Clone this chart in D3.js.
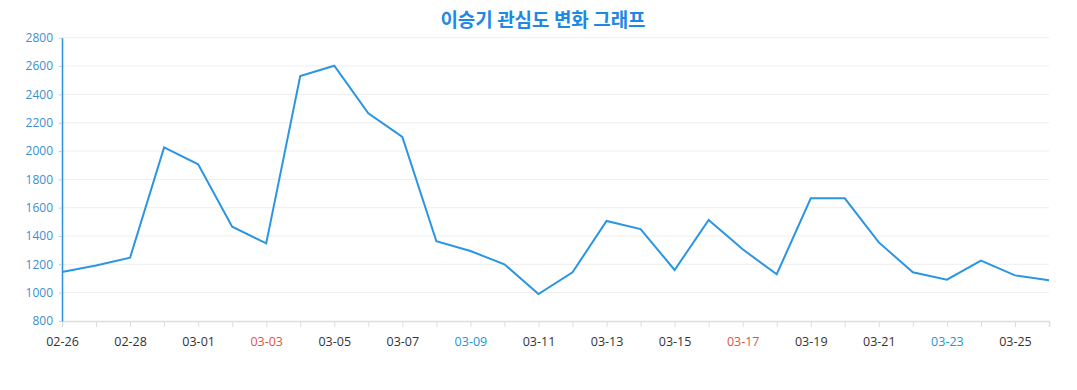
<!DOCTYPE html>
<html>
<head>
<meta charset="utf-8">
<script src="https://cdn.jsdelivr.net/npm/d3@7"></script>
<style>
  body { margin: 0; background: #fff; }
  text { font-family: "Open Sans", "Noto Sans", sans-serif; }
</style>
</head>
<body>
<div id="chart"></div>
<script>
// 날짜별 관심도
const dates = ["02-26", "02-27", "02-28", "02-29", "03-01", "03-02", "03-03", "03-04", "03-05", "03-06",
               "03-07", "03-08", "03-09", "03-10", "03-11", "03-12", "03-13", "03-14", "03-15", "03-16",
               "03-17", "03-18", "03-19", "03-20", "03-21", "03-22", "03-23", "03-24", "03-25", "03-26"];
const values = [1146, 1192, 1247, 2026, 1906, 1466, 1348, 2530, 2602, 2266,
                2100, 1363, 1294, 1200, 990, 1144, 1506, 1449, 1160, 1513,
                1306, 1130, 1666, 1666, 1355, 1144, 1092, 1226, 1122, 1087];
const yTicks = [800, 1000, 1200, 1400, 1600, 1800, 2000, 2200, 2400, 2600, 2800];
const redLabels = ["03-03", "03-17"];
const blueLabels = ["03-09", "03-23"];

const width = 1077, height = 390;
const margin = { top: 37.7, right: 28, bottom: 69, left: 62 };

const svg = d3.select("#chart")
    .append("svg")
    .attr("width", width)
    .attr("height", height);

const x = d3.scalePoint()
    .domain(dates)
    .range([margin.left, width - margin.right]);

const y = d3.scaleLinear()
    .domain([800, 2800])
    .range([height - margin.bottom, margin.top]);

// grid
svg.append("g")
    .selectAll("line")
    .data(yTicks.slice(1))
    .join("line")
    .attr("x1", margin.left)
    .attr("x2", width - margin.right)
    .attr("y1", d => y(d))
    .attr("y2", d => y(d))
    .attr("stroke", "#eeeeee");

// x axis
const xAxis = svg.append("g")
    .attr("transform", `translate(0,${height - margin.bottom})`)
    .call(d3.axisBottom(x).tickSize(6).tickPadding(10)
        .tickFormat((d, i) => i % 2 === 0 ? d : ""));
xAxis.select(".domain").attr("stroke", "#dddddd").attr("stroke-width", 1.5);
xAxis.selectAll(".tick line").attr("stroke", "#dddddd");
xAxis.selectAll(".tick text")
    .style("font-size", "12.5px")
    .attr("fill", d => redLabels.includes(d) ? "#e0553c" : blueLabels.includes(d) ? "#2196d3" : "#333333");

// y axis
const yAxis = svg.append("g")
    .attr("transform", `translate(${margin.left},0)`)
    .call(d3.axisLeft(y).tickValues(yTicks).tickFormat(d3.format("d"))
        .tickSize(3).tickPadding(6).tickSizeOuter(0));
yAxis.select(".domain").attr("stroke", "#2a8fdd").attr("stroke-width", 1.5);
yAxis.selectAll(".tick line").attr("stroke", "#cccccc");
yAxis.selectAll(".tick text")
    .style("font-size", "12px")
    .attr("fill", "#3a8fd0");

// line
const line = d3.line()
    .x((d, i) => x(dates[i]))
    .y(d => y(d));

svg.append("path")
    .datum(values)
    .attr("fill", "none")
    .attr("stroke", "#2b95e3")
    .attr("stroke-width", 2)
    .attr("stroke-linejoin", "miter")
    .attr("d", line);

// title
svg.append("text")
    .attr("x", 543)
    .attr("y", 27)
    .attr("text-anchor", "middle")
    .style("font-family", "'Noto Sans CJK KR', sans-serif")
    .style("font-size", "19px")
    .style("font-weight", "bold")
    .attr("fill", "#1e88e5")
    .text("이승기 관심도 변화 그래프");
</script>
</body>
</html>
